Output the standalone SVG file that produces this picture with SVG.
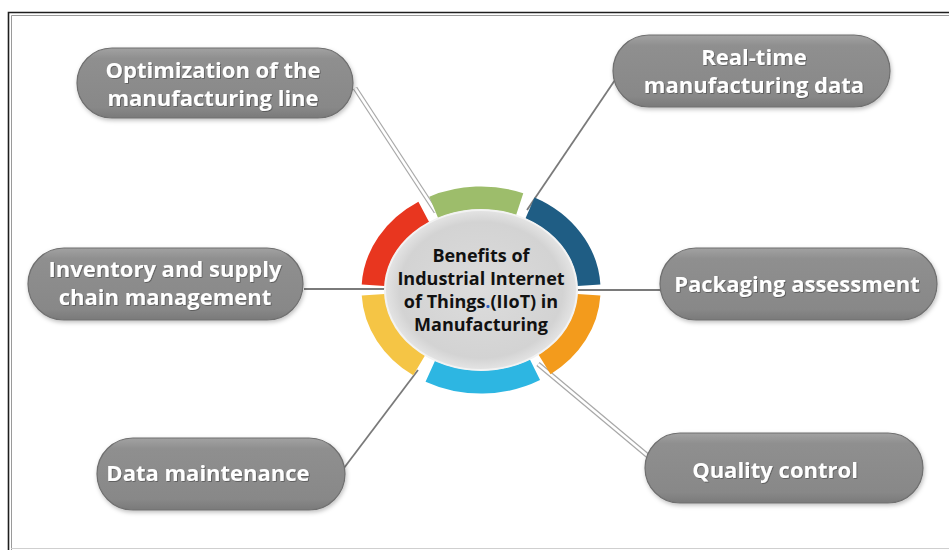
<svg xmlns="http://www.w3.org/2000/svg" width="949" height="550" viewBox="0 0 949 550">
  <defs>
    <linearGradient id="pillGrad" x1="0" y1="0" x2="0" y2="1">
      <stop offset="0" stop-color="#a2a2a2"/>
      <stop offset="0.15" stop-color="#8f8f8f"/>
      <stop offset="0.85" stop-color="#888888"/>
      <stop offset="1" stop-color="#7a7a7a"/>
    </linearGradient>
    <radialGradient id="hubGrad" cx="0.5" cy="0.5" r="0.5">
      <stop offset="0" stop-color="#dcdcdc"/>
      <stop offset="0.85" stop-color="#d3d3d3"/>
      <stop offset="1" stop-color="#e4e4e4"/>
    </radialGradient>
    <filter id="shadow" x="-10%" y="-20%" width="120%" height="150%">
      <feDropShadow dx="1" dy="2" stdDeviation="2" flood-color="#000" flood-opacity="0.25"/>
    </filter>
    <filter id="txtShadow" x="-5%" y="-20%" width="110%" height="150%">
      <feDropShadow dx="0.8" dy="0.8" stdDeviation="0.6" flood-color="#333" flood-opacity="0.6"/>
    </filter>
  </defs>
  <style>
    .pill { fill: url(#pillGrad); stroke: #6f6f6f; stroke-width: 1.2; filter: url(#shadow); }
    .pt { font-family: "Open Sans", "Liberation Sans", sans-serif; font-weight: 700; font-size: 22px; fill: #ffffff; text-anchor: middle; filter: url(#txtShadow); }
    .ct { font-family: "Open Sans", "Liberation Sans", sans-serif; font-weight: 700; font-size: 18px; fill: #111111; text-anchor: middle; }
    .thin { stroke: #7a7a7a; stroke-width: 1.8; fill: none; }
    .dblo { stroke: #a8a8a8; stroke-width: 5; fill: none; }
    .dbli { stroke: #ffffff; stroke-width: 2.6; fill: none; }
    .seg { fill: none; stroke-width: 23; stroke-linecap: butt; }
  </style>
  <rect x="0" y="0" width="949" height="550" fill="#ffffff"/>
  <!-- frame -->
  <path d="M949,12.5 H8.5 V550" fill="none" stroke="#1e1e1e" stroke-width="1.6"/>
  <path d="M949,15.5 H11.5 V550" fill="none" stroke="#9a9a9a" stroke-width="1"/>
  <line x1="11" y1="548.5" x2="949" y2="548.5" stroke="#cfcfcf" stroke-width="1"/>

  <g id="connectors">
    <path class="dblo" d="M355,88 L436,212"/>
    <path class="dbli" d="M355,88 L436,212"/>
    <path class="thin" d="M615,80 L527,210"/>
    <path class="thin" d="M304,289 L390,289"/>
    <path class="thin" d="M572,290 L661,290"/>
    <path class="thin" d="M344,468 L418,370"/>
    <path class="dblo" d="M538,364 L648,456"/>
    <path class="dbli" d="M538,364 L648,456"/>
  </g>

  <g id="hub">
    <path class="seg" stroke="#e8361f" d="M373.2,285.2 A108,92 0 0 1 423.8,212"/>
    <path class="seg" stroke="#9dbd6b" d="M433.7,207.3 A108,92 0 0 1 519.7,204.1"/>
    <path class="seg" stroke="#1f5d84" d="M530,208 A108,92 0 0 1 588.9,285.2"/>
    <path class="seg" stroke="#f39b1c" d="M588.9,294.8 A108,92 0 0 1 544.5,364.4"/>
    <path class="seg" stroke="#2db6e2" d="M535,369.7 A108,92 0 0 1 430.3,371.2"/>
    <path class="seg" stroke="#f5c545" d="M419.1,365.4 A108,92 0 0 1 373.2,294.8"/>
    <ellipse cx="481" cy="290" rx="96" ry="80" fill="url(#hubGrad)" stroke="#f2f2f2" stroke-width="2"/>
    <text class="ct" x="481" y="262">Benefits of</text>
    <text class="ct" x="481" y="285">Industrial Internet</text>
    <text class="ct" x="481" y="308">of Things<tspan fill="#2a5cc0">.</tspan>(IIoT) in</text>
    <text class="ct" x="481" y="331">Manufacturing</text>
  </g>

  <g id="node-optimization">
    <rect class="pill" x="77" y="48" width="276" height="70" rx="35"/>
    <text class="pt" x="213" y="78">Optimization of the</text>
    <text class="pt" x="213" y="106">manufacturing line</text>
  </g>
  <g id="node-realtime">
    <rect class="pill" x="613" y="35" width="277" height="72" rx="36"/>
    <text class="pt" x="754" y="65">Real-time</text>
    <text class="pt" x="754" y="93">manufacturing data</text>
  </g>
  <g id="node-inventory">
    <rect class="pill" x="28" y="248" width="275" height="72" rx="36"/>
    <text class="pt" x="165" y="277">Inventory and supply</text>
    <text class="pt" x="165" y="305">chain management</text>
  </g>
  <g id="node-packaging">
    <rect class="pill" x="660" y="248" width="277" height="72" rx="36"/>
    <text class="pt" x="797" y="292">Packaging assessment</text>
  </g>
  <g id="node-data">
    <rect class="pill" x="97" y="438" width="248" height="72" rx="36"/>
    <text class="pt" x="208" y="481">Data maintenance</text>
  </g>
  <g id="node-quality">
    <rect class="pill" x="645" y="433" width="278" height="70" rx="35"/>
    <text class="pt" x="775" y="478">Quality control</text>
  </g>
</svg>
